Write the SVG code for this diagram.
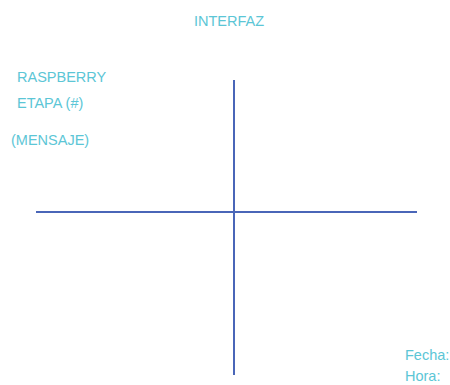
<svg xmlns="http://www.w3.org/2000/svg" width="450" height="385" viewBox="0 0 450 385">
<style>
.t{font-family:"Liberation Sans",Arial,sans-serif;font-size:14.5px;fill:#5cc6d6}
.ax{stroke:#4a66b8;stroke-width:2;fill:none}
</style>
<rect width="450" height="385" fill="#fff"/>
<g id="connectors">
<line class="ax" x1="234" y1="80" x2="234" y2="375"/>
<line class="ax" x1="36" y1="212" x2="417" y2="212"/>
</g>
<g id="title"><text class="t" x="194" y="26">INTERFAZ</text></g>
<g id="raspberry"><text class="t" x="17" y="82">RASPBERRY</text></g>
<g id="etapa"><text class="t" x="17" y="108">ETAPA (#)</text></g>
<g id="mensaje"><text class="t" x="11" y="145">(MENSAJE)</text></g>
<g id="fecha"><text class="t" x="405" y="360">Fecha:</text></g>
<g id="hora"><text class="t" x="405" y="381">Hora:</text></g>
</svg>
